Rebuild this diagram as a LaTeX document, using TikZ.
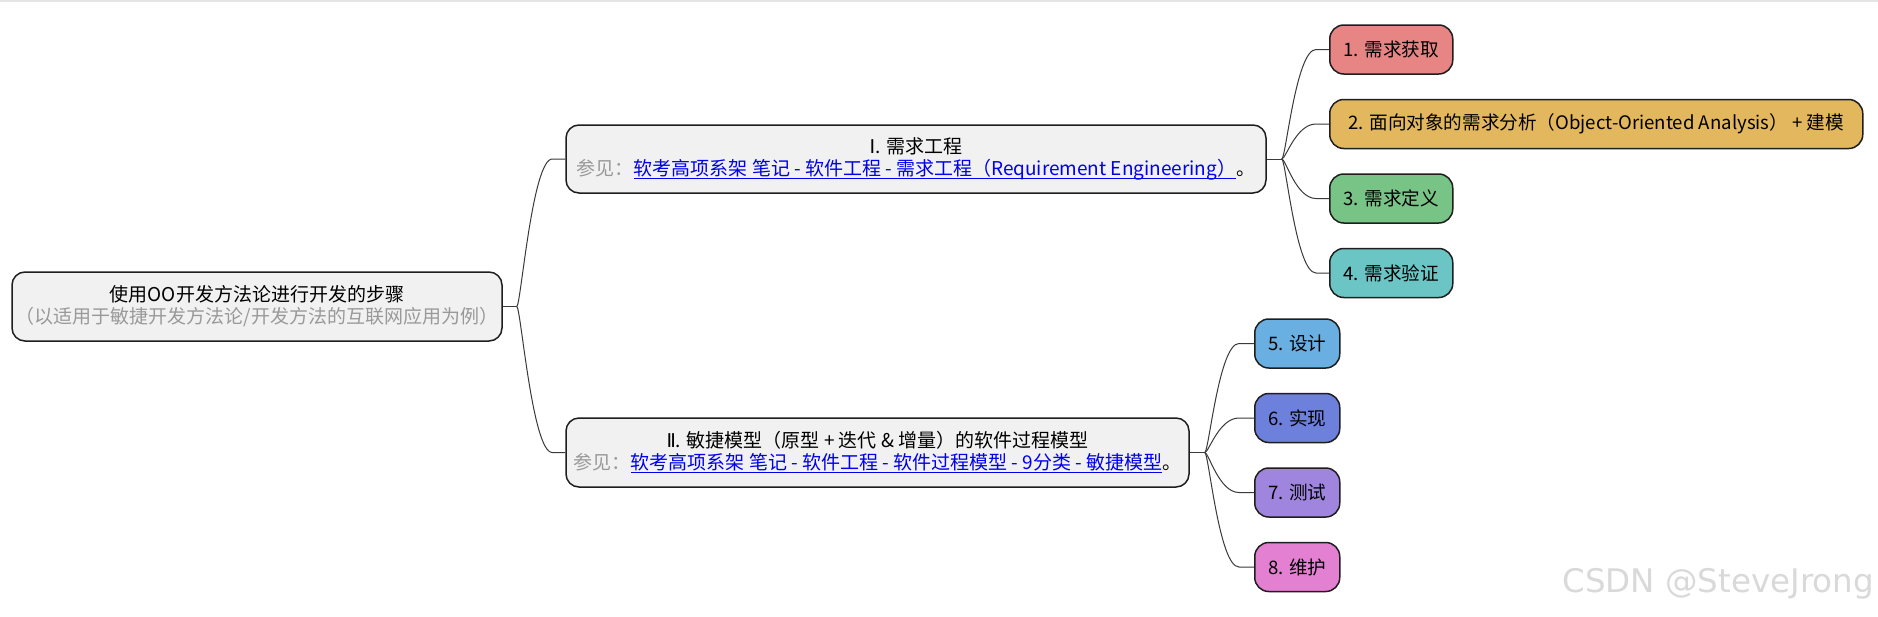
\documentclass[tikz,border=0pt]{standalone}
\usepackage{fontspec}
\setmainfont{Noto Sans CJK SC}
\newfontfamily\markfont{DejaVu Sans}
\usetikzlibrary{positioning, calc}

\definecolor{boxfill}{HTML}{F1F1F1}
\definecolor{edgeblack}{HTML}{1E1E1E}
\definecolor{branchgray}{HTML}{3A3A3A}
\definecolor{notegray}{HTML}{999999}
\definecolor{linkblue}{RGB}{0,0,238}
\definecolor{markgray}{HTML}{D9D9D9}
\definecolor{topgray}{HTML}{E4E4E4}
\definecolor{stepA}{HTML}{E78585}
\definecolor{stepB}{HTML}{E2B75E}
\definecolor{stepC}{HTML}{78C386}
\definecolor{stepD}{HTML}{6CC5C5}
\definecolor{stepE}{HTML}{69AFE2}
\definecolor{stepF}{HTML}{6C80DC}
\definecolor{stepG}{HTML}{A085DE}
\definecolor{stepH}{HTML}{E480D2}

% blue underlined link text
\newcommand{\mmlink}[1]{{\color{linkblue}\setbox0=\hbox{#1}\rlap{\rule[-3.5pt]{\wd0}{1pt}}\box0}}
% roman numerals
\newcommand{\rnum}[1]{{\markfont #1}}

\begin{document}
\begin{tikzpicture}[
    x=1pt, y=-1pt,
    topic/.style={draw=edgeblack, line width=1.5pt, fill=boxfill, rounded corners=13pt, align=center, inner sep=0pt, font=\fontsize{19}{22}\selectfont},
    leaf/.style={draw=edgeblack, line width=1.5pt, rounded corners=14pt, minimum height=49pt, inner sep=0pt, anchor=west, font=\fontsize{18.6}{22}\selectfont},
    branch/.style={draw=branchgray, line width=1pt}
]
    \fill[white] (0,0) rectangle (1878,616);
    \useasboundingbox (0,0) rectangle (1878,616);
    \draw[topgray, line width=2pt] (0,1) -- (1878,1);

    % Root
    \node[topic, minimum width=490pt, minimum height=69pt] (root) at (257,306.5)
        {使用OO开发方法论进行开发的步骤\\{\color{notegray}（以适用于敏捷开发方法论/开发方法的互联网应用为例）}};

    % Requirement engineering
    \node[topic, minimum width=700pt, minimum height=68pt] (reqeng) at (916,159)
        {\rnum{Ⅰ}. 需求工程\\{\color{notegray}参见：}\mmlink{软考高项系架 笔记 - 软件工程 - 需求工程（Requirement Engineering）}。};

    % Agile model
    \node[topic, minimum width=623pt, minimum height=69pt] (agile) at (877.5,452.5)
        {\rnum{Ⅱ}. 敏捷模型（原型 + 迭代 \& 增量）的软件过程模型\\{\color{notegray}参见：}\mmlink{软考高项系架 笔记 - 软件工程 - 软件过程模型 - 9分类 - 敏捷模型}。};

    % Steps 1-4
    \node[leaf, fill=stepA, minimum width=123pt] (elicit) at (1329,49.5) {1. 需求获取};
    \node[leaf, fill=stepB, minimum width=533pt, below right=24pt and 0pt of elicit.south west] (analysis) {2. 面向对象的需求分析（Object-Oriented Analysis） + 建模};
    \node[leaf, fill=stepC, minimum width=123pt, below right=24pt and 0pt of analysis.south west] (define) {3. 需求定义};
    \node[leaf, fill=stepD, minimum width=123pt, below right=24pt and 0pt of define.south west] (verify) {4. 需求验证};

    % Steps 5-8
    \node[leaf, fill=stepE, minimum width=85pt] (design) at (1254,343.5) {5. 设计};
    \node[leaf, fill=stepF, minimum width=85pt, below right=24pt and 0pt of design.south west] (build) {6. 实现};
    \node[leaf, fill=stepG, minimum width=85pt, below right=24pt and 0pt of build.south west] (test) {7. 测试};
    \node[leaf, fill=stepH, minimum width=85pt, below right=24pt and 0pt of test.south west] (maintain) {8. 维护};

    % Watermark
    \node[anchor=east, text=markgray, font=\markfont\fontsize{32.5}{34}\selectfont, inner sep=0pt] (mark) at (1874,584) {CSDN @SteveJrong};

    % Branches
    \coordinate (jroot) at ($(root.east)+(14,0)$);
    \coordinate (jreq) at ($(reqeng.east)+(15,0)$);
    \coordinate (jagile) at ($(agile.east)+(15,0)$);

    \draw[branch] (root.east) -- (jroot);
    \foreach \dst in {reqeng, agile}
        \draw[branch] (jroot) .. controls +(4,0) and +(-20,0) .. ([xshift=-13pt]\dst.west) -- (\dst.west);

    \draw[branch] (reqeng.east) -- (jreq);
    \foreach \dst in {elicit, analysis, define, verify}
        \draw[branch] (jreq) .. controls +(4,0) and +(-20,0) .. ([xshift=-13pt]\dst.west) -- (\dst.west);

    \draw[branch] (agile.east) -- (jagile);
    \foreach \dst in {design, build, test, maintain}
        \draw[branch] (jagile) .. controls +(4,0) and +(-20,0) .. ([xshift=-15pt]\dst.west) -- (\dst.west);

\end{tikzpicture}
\end{document}
